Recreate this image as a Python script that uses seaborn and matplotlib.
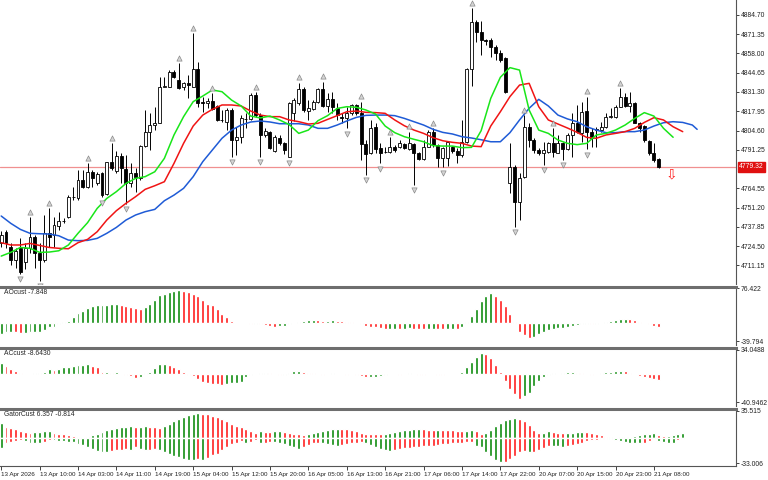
import matplotlib
matplotlib.use("Agg")
import matplotlib.pyplot as plt
import matplotlib.transforms as mtransforms
import numpy as np
import seaborn as sns

# ---- price data (H1 candles) ----
opens = [
    4726.8, 4734.0, 4723.5, 4714.8, 4722.9, 4713.6, 4722.9, 4730.5, 4719.4, 4714.8,
    4733.3, 4732.1, 4738.6, 4741.8, 4744.8, 4758.2, 4757.5, 4770.3, 4765.6, 4776.0,
    4767.9, 4774.9, 4760.3, 4782.5, 4776.7, 4787.1, 4777.9, 4768.4, 4775.3, 4771.4,
    4794.1, 4803.8, 4808.2, 4810.0, 4835.0, 4835.0, 4845.0, 4839.6, 4834.5, 4837.3,
    4835.0, 4847.0, 4824.4, 4823.4, 4825.3, 4821.6, 4811.9, 4810.7, 4818.8, 4798.0,
    4800.3, 4812.8, 4812.3, 4829.2, 4815.3, 4801.5, 4803.8, 4790.6, 4799.6, 4796.1,
    4786.4, 4817.0, 4823.4, 4833.1, 4818.3, 4819.3, 4824.6, 4833.1, 4821.6, 4826.7,
    4820.0, 4813.9, 4813.0, 4816.5, 4822.3, 4816.5, 4795.2, 4788.8, 4806.8, 4792.2,
    4789.7, 4789.9, 4793.4, 4792.9, 4795.0, 4791.5, 4795.2, 4789.2, 4784.6, 4793.4,
    4803.3, 4794.5, 4785.3, 4785.3, 4793.4, 4790.6, 4787.6, 4796.8, 4847.0, 4880.1,
    4872.7, 4867.4, 4867.4, 4862.7, 4858.1, 4854.6, 4768.4, 4779.5, 4755.2, 4772.6,
    4807.2, 4798.0, 4791.1, 4788.8, 4789.9, 4795.7, 4789.2, 4796.1, 4791.5, 4801.5,
    4810.0, 4803.1, 4818.1, 4803.8, 4805.5, 4804.9, 4806.8, 4813.7, 4814.2, 4821.1,
    4827.6, 4821.6, 4823.9, 4810.0, 4807.7, 4797.5, 4789.2, 4784.6,
]
highs = [
    4735.1, 4735.6, 4726.3, 4722.9, 4729.8, 4726.8, 4744.4, 4732.1, 4726.3, 4746.0,
    4750.6, 4744.8, 4748.3, 4743.7, 4759.8, 4765.6, 4777.2, 4777.2, 4781.8, 4777.2,
    4776.0, 4776.0, 4783.0, 4795.7, 4790.4, 4788.8, 4787.6, 4781.8, 4778.3, 4794.5,
    4818.8, 4816.5, 4820.7, 4841.5, 4842.0, 4846.5, 4846.5, 4851.2, 4838.5, 4843.1,
    4872.0, 4852.3, 4828.1, 4826.9, 4830.4, 4822.3, 4818.8, 4820.0, 4820.0, 4807.2,
    4815.3, 4816.5, 4830.4, 4831.0, 4816.5, 4806.1, 4804.5, 4801.5, 4801.5, 4796.8,
    4824.6, 4826.9, 4837.8, 4834.5, 4825.7, 4825.7, 4833.8, 4838.5, 4830.8, 4831.5,
    4823.4, 4816.5, 4821.1, 4823.0, 4823.0, 4824.6, 4798.0, 4811.9, 4809.6, 4795.7,
    4793.4, 4800.3, 4794.5, 4798.0, 4795.7, 4803.8, 4795.7, 4789.9, 4798.0, 4804.9,
    4806.1, 4795.0, 4793.4, 4797.5, 4794.1, 4792.2, 4811.9, 4847.7, 4889.3, 4881.2,
    4880.8, 4867.8, 4868.5, 4863.9, 4860.4, 4855.8, 4795.7, 4780.7, 4774.9, 4815.3,
    4809.6, 4799.2, 4792.2, 4796.8, 4796.8, 4806.1, 4801.5, 4796.8, 4802.6, 4816.5,
    4822.3, 4824.6, 4828.1, 4806.1, 4807.2, 4810.7, 4816.5, 4820.0, 4822.3, 4833.8,
    4830.8, 4831.5, 4824.6, 4810.7, 4808.4, 4798.0, 4796.1, 4785.3,
]
lows = [
    4723.5, 4722.9, 4711.3, 4709.0, 4705.1, 4708.3, 4719.4, 4709.0, 4700.4, 4713.6,
    4724.0, 4724.0, 4735.6, 4740.2, 4743.7, 4756.4, 4756.4, 4764.5, 4764.5, 4765.6,
    4766.8, 4758.2, 4759.8, 4777.2, 4774.9, 4767.9, 4753.6, 4765.6, 4762.2, 4770.3,
    4793.4, 4791.1, 4804.9, 4809.6, 4834.5, 4834.5, 4840.8, 4833.1, 4832.7, 4826.9,
    4834.5, 4820.7, 4817.6, 4820.0, 4818.8, 4811.4, 4810.7, 4804.9, 4786.4, 4787.6,
    4795.7, 4806.1, 4811.9, 4814.2, 4786.4, 4800.3, 4791.8, 4789.9, 4794.5, 4788.3,
    4786.0, 4811.4, 4822.3, 4817.6, 4811.9, 4818.8, 4823.4, 4821.1, 4817.6, 4816.5,
    4811.9, 4810.0, 4806.1, 4815.3, 4815.3, 4784.1, 4773.7, 4788.3, 4788.8, 4781.8,
    4788.8, 4788.8, 4789.9, 4792.2, 4791.5, 4791.1, 4766.8, 4784.1, 4784.1, 4792.9,
    4793.4, 4779.5, 4779.0, 4780.0, 4789.2, 4781.8, 4786.4, 4796.1, 4835.5, 4866.2,
    4857.0, 4863.9, 4855.8, 4853.5, 4852.3, 4830.4, 4761.0, 4737.9, 4742.5, 4771.4,
    4793.4, 4788.8, 4787.6, 4780.7, 4788.8, 4786.4, 4788.8, 4784.1, 4791.1, 4786.4,
    4802.6, 4796.8, 4791.5, 4793.4, 4793.4, 4803.8, 4806.1, 4813.0, 4813.0, 4820.7,
    4821.1, 4817.6, 4809.6, 4803.8, 4796.8, 4787.6, 4783.0, 4778.4,
]
closes = [
    4732.1, 4726.3, 4714.8, 4721.2, 4706.7, 4722.9, 4730.5, 4719.4, 4714.8, 4733.3,
    4730.5, 4738.8, 4741.8, 4741.5, 4758.2, 4758.5, 4770.3, 4765.6, 4776.0, 4771.4,
    4774.4, 4759.8, 4782.5, 4778.3, 4787.1, 4778.8, 4768.4, 4775.3, 4772.6, 4794.1,
    4803.8, 4808.4, 4810.0, 4835.0, 4835.5, 4845.4, 4841.5, 4833.8, 4837.3, 4836.1,
    4847.0, 4823.9, 4824.0, 4825.3, 4819.3, 4811.9, 4811.6, 4818.8, 4798.0, 4800.3,
    4813.0, 4812.3, 4829.2, 4815.3, 4801.5, 4804.2, 4792.2, 4800.3, 4795.7, 4791.1,
    4823.4, 4825.7, 4833.1, 4818.8, 4820.0, 4824.6, 4833.1, 4821.6, 4826.7, 4821.1,
    4815.3, 4813.5, 4816.5, 4822.3, 4816.5, 4795.2, 4788.3, 4806.1, 4791.5, 4789.2,
    4789.4, 4793.4, 4791.1, 4795.7, 4792.2, 4795.7, 4788.8, 4784.6, 4793.4, 4803.3,
    4794.5, 4785.3, 4792.2, 4796.8, 4790.6, 4787.6, 4796.8, 4847.0, 4880.1, 4872.7,
    4867.4, 4867.0, 4862.7, 4858.1, 4853.5, 4831.5, 4779.5, 4755.2, 4771.4, 4807.2,
    4798.0, 4791.1, 4788.8, 4791.1, 4795.7, 4789.9, 4796.1, 4791.5, 4801.5, 4809.6,
    4803.5, 4817.6, 4803.8, 4799.2, 4805.0, 4807.2, 4813.7, 4814.6, 4821.1, 4827.6,
    4821.6, 4823.4, 4810.0, 4806.1, 4798.0, 4788.8, 4784.1, 4779.32,
]
last_price = 4779.32

# ---- Alligator lines (already shifted forward), sampled every 2 bars ----
jaw_bars = list(range(0, 146, 2)) + [145]
jaw = [
    4745.3, 4740.2, 4736.0, 4733.3, 4733.0, 4732.8, 4731.6, 4728.6, 4728.2, 4728.4,
    4729.8, 4733.3, 4737.4, 4742.5, 4746.0, 4748.3, 4749.9, 4755.9,
    4759.8, 4764.5, 4772.6, 4783.0, 4791.1, 4799.2, 4804.9, 4808.4, 4810.5, 4811.2,
    4810.5, 4809.3, 4809.3, 4809.3, 4808.4, 4806.1, 4806.1,
    4808.4, 4811.2, 4813.7, 4815.1, 4815.3, 4815.3, 4814.9, 4813.0, 4810.7, 4808.4,
    4805.4, 4803.3, 4802.2, 4800.3, 4799.4, 4798.2, 4796.8,
    4796.8, 4803.1, 4811.9, 4820.0, 4826.2, 4821.6, 4815.3, 4812.6, 4810.7, 4807.2,
    4804.9, 4803.1, 4803.1, 4803.8, 4803.8, 4804.9, 4807.7, 4810.0, 4810.7, 4810.2,
    4808.4, 4805.4,
]
teeth_bars = list(range(0, 143, 2))
teeth = [
    4726.8, 4725.2, 4725.2, 4726.3, 4724.9, 4723.5, 4722.9, 4722.6, 4726.8, 4729.1,
    4734.4, 4742.5, 4749.0, 4754.1, 4758.7, 4763.8, 4766.3, 4769.1,
    4781.8, 4795.7, 4807.7, 4815.3, 4819.3, 4822.3, 4822.3, 4821.6, 4818.1, 4815.3,
    4814.2, 4814.2, 4811.9, 4810.7, 4809.1, 4809.6, 4812.3,
    4814.9, 4817.6, 4818.1, 4817.2, 4817.0, 4816.5, 4811.9, 4807.9, 4804.9, 4802.6,
    4799.6, 4797.5, 4796.4, 4795.7, 4793.8, 4793.4, 4807.7,
    4817.6, 4828.1, 4836.1, 4837.3, 4821.1, 4811.9, 4809.1, 4806.3, 4803.3, 4799.8,
    4799.2, 4801.5, 4802.6, 4803.8, 4806.1, 4810.2, 4813.5, 4811.9, 4807.2, 4803.8,
]
lips_bars = list(range(0, 141, 2))
lips = [
    4717.5, 4720.1, 4723.5, 4722.9, 4720.1, 4720.3, 4721.2, 4725.2, 4733.3, 4740.7,
    4750.6, 4757.5, 4762.2, 4767.9, 4771.4, 4772.6, 4776.0, 4785.3,
    4801.5, 4814.2, 4824.6, 4828.5, 4832.7, 4831.5, 4825.7, 4821.6, 4814.6, 4813.3,
    4814.6, 4811.9, 4808.7, 4802.6, 4804.9, 4811.4, 4814.9,
    4819.9, 4821.1, 4820.7, 4818.8, 4816.0, 4807.7, 4803.1, 4800.3, 4798.5, 4796.8,
    4794.1, 4793.8, 4793.8, 4792.7, 4792.9, 4804.5, 4826.9,
    4841.5, 4848.2, 4846.5, 4818.8, 4804.9, 4802.6, 4798.0, 4795.7, 4794.8, 4795.7,
    4801.5, 4802.6, 4804.9, 4808.4, 4813.0, 4817.0, 4814.6, 4806.1, 4799.9,
]

# ---- fractals ----
fractal_up = [6, 10, 18, 23, 37, 40, 44, 53, 62, 67, 75, 81, 85, 90, 98, 109, 115, 122, 129]
fractal_down = [4, 8, 21, 26, 48, 54, 60, 72, 76, 79, 86, 92, 107, 113, 117, 122]

# ---- oscillators ----
ao = [
    -22.6, -19.7, -19.0, -20.0, -22.0, -21.0, -20.0, -19.0, -18.0, -15.0,
    -8.5, -7.0, -2.0, 2.0, 6.0, 13.0, 21.9, 27.0, 32.6, 38.3,
    39.8, 40.5, 41.2, 42.0, 43.4, 41.2, 39.1, 36.2, 32.6, 31.2,
    36.2, 42.0, 52.0, 61.3, 65.0, 67.7, 70.6, 73.5, 72.0, 67.7,
    65.0, 60.6, 52.0, 43.4, 39.8, 30.5, 19.7, 14.7, 6.1, 1.8,
    0.3, -0.3, -1.0, -0.5, -2.0, -4.0, -6.0, -7.5, -6.5, -5.0,
    -2.0, 1.5, 4.0, 6.0, 6.5, 7.0, 6.5, 5.5, 6.0, 7.0,
    6.0, 4.5, 3.0, 2.5, 1.0, -2.0, -5.0, -7.0, -9.0, -11.0,
    -12.5, -12.0, -11.5, -12.0, -11.5, -11.0, -12.0, -13.0, -13.5, -12.5,
    -12.0, -13.0, -13.5, -12.5, -12.0, -12.5, -8.0, 3.0, 17.0, 32.0,
    50.0, 60.0, 65.6, 60.0, 52.0, 38.0, 20.0, 2.0, -18.0, -26.0,
    -33.0, -30.0, -24.0, -18.0, -15.0, -12.0, -11.0, -10.0, -7.0, -5.0,
    -4.0, -2.0, -1.0, -2.0, -1.0, 1.0, 3.0, 5.0, 7.0, 9.0,
    10.0, 9.0, 7.0, 4.0, 1.0, -2.5, -5.5, -7.848,
]
ac = [
    14.6, 11.3, 6.6, 3.3, 0.9, -0.9, -0.4, 0.5, 0.9, 2.8,
    6.1, 5.0, 6.6, 8.9, 9.9, 10.4, 11.8, 12.7, 13.7, 11.3,
    8.9, 1.9, 2.5, 0.5, 1.9, -0.5, -1.4, -2.8, -6.1, -5.2,
    0.2, 2.4, 8.0, 13.7, 14.2, 12.7, 8.9, 6.1, 1.9, -1.4,
    -2.8, -7.5, -12.3, -13.7, -14.6, -15.6, -17.0, -14.6, -13.7, -13.6,
    -12.3, -5.2, -1.9, -0.5, 0.5, 1.5, 1.0, -1.0, -2.5, -1.5,
    1.5, 3.5, 4.0, 3.0, 1.5, 0.5, -1.0, -2.0, -0.5, 1.0,
    0.0, -1.0, -2.0, -1.0, -2.0, -4.0, -5.5, -5.0, -4.5, -3.5,
    -2.5, -1.0, -0.5, -1.5, -0.5, 0.5, -1.0, -2.0, -2.5, -1.0,
    -0.5, -1.5, -2.0, -0.5, 0.0, -1.0, 2.0, 9.0, 17.0, 24.0,
    30.0, 28.0, 22.0, 12.0, 2.0, -10.0, -22.0, -30.0, -36.0, -32.0,
    -28.0, -18.0, -10.0, -5.0, -2.0, 0.5, -0.5, 0.5, 2.0, 2.5,
    1.5, 0.5, 0.0, -1.5, -0.5, 1.0, 2.0, 3.0, 4.0, 4.5,
    3.5, 1.5, -1.0, -3.0, -4.5, -6.0, -7.5, -8.643,
]
gator_up = [
    19.2, 14.9, 13.1, 11.9, 9.7, 7.5, 6.3, 7.5, 7.8, 8.8,
    9.7, 6.7, 5.8, 5.0, 4.1, 2.4, 1.1, 0.2, 1.9, 3.7,
    5.8, 8.4, 11.0, 12.3, 13.1, 14.0, 14.9, 15.7, 14.0, 14.8,
    15.5, 15.0, 14.0, 13.5, 15.5, 18.5, 22.0, 25.0, 28.0, 30.5,
    32.0, 32.8, 32.0, 31.0, 29.5, 27.5, 24.8, 22.6, 18.3, 16.2,
    14.0, 11.9, 9.7, 6.7, 8.9, 8.2, 7.8, 8.5, 9.4, 7.9,
    6.6, 5.6, 4.8, 4.3, 5.0, 6.3, 7.6, 9.5, 11.1, 11.8,
    12.1, 11.8, 11.3, 10.2, 8.7, 6.9, 5.7, 5.3, 5.0, 4.6,
    5.0, 6.3, 7.6, 8.9, 9.9, 10.8, 11.2, 11.5, 11.3, 11.1,
    10.8, 11.1, 10.8, 10.5, 10.3, 9.5, 9.0, 9.5, 10.2, 9.5,
    4.8, 7.0, 11.0, 15.5, 20.0, 23.0, 25.5, 26.5, 25.0, 22.0,
    17.5, 11.0, 6.0, 7.0, 9.5, 8.0, 6.5, 6.2, 6.5, 7.0,
    7.5, 7.8, 7.4, 6.5, 5.5, 3.5, 1.8, 1.0, 0.6, 0.8,
    1.2, 1.8, 2.5, 3.5, 5.0, 5.8, 6.0, 4.5, 2.5, 3.0,
    3.8, 5.0, 6.357,
]
gator_down = [
    -13.1, -6.7, -5.4, -4.1, -3.2, -4.1, -6.2, -6.7, -6.9, -5.8,
    -2.4, -3.2, -3.7, -4.1, -5.4, -5.8, -7.5, -9.3, -11.9, -14.4,
    -16.6, -17.9, -18.3, -17.5, -16.2, -16.2, -14.9, -16.2, -11.9, -14.4,
    -16.2, -15.3, -14.0, -15.5, -18.0, -20.5, -23.5, -25.6, -28.2, -29.1,
    -29.5, -28.2, -29.1, -26.9, -22.6, -20.5, -16.2, -11.9, -7.5, -6.7,
    -4.1, -6.7, -5.4, -3.2, -6.9, -6.3, -5.0, -5.6, -6.9, -8.2,
    -10.2, -12.1, -14.1, -12.1, -9.5, -6.9, -6.3, -6.9, -7.6, -9.5,
    -10.8, -9.5, -8.2, -6.9, -6.3, -5.6, -6.9, -9.5, -12.1, -14.7,
    -16.0, -16.7, -16.0, -14.7, -13.4, -12.8, -12.1, -11.5, -11.1, -10.8,
    -10.2, -9.5, -8.2, -7.6, -6.9, -6.9, -6.9, -5.6, -5.0, -10.8,
    -12.0, -18.0, -24.0, -29.0, -32.0, -31.0, -28.0, -24.0, -19.0, -17.0,
    -19.0, -18.0, -16.0, -13.0, -10.0, -10.5, -11.0, -11.5, -10.5, -9.5,
    -8.5, -6.5, -4.5, -3.0, -2.3, -1.5, -1.2, -1.8, -2.5, -3.5,
    -4.8, -6.0, -7.0, -7.2, -6.8, -4.0, -1.5, -3.5, -5.5, -6.5,
    -7.2, -3.0, -0.814,
]

# ---- axis texts ----
time_labels = [
    "13 Apr 2026", "13 Apr 10:00", "14 Apr 03:00", "14 Apr 11:00", "14 Apr 19:00",
    "15 Apr 04:00", "15 Apr 12:00", "15 Apr 20:00", "16 Apr 05:00", "16 Apr 13:00",
    "16 Apr 21:00", "17 Apr 06:00", "17 Apr 14:00", "17 Apr 22:00", "20 Apr 07:00",
    "20 Apr 15:00", "20 Apr 23:00", "21 Apr 08:00",
]
price_ticks = [4884.70, 4871.35, 4858.00, 4844.65, 4831.30, 4817.95, 4804.60,
               4791.25, 4764.55, 4751.20, 4737.85, 4724.50, 4711.15]

GREEN = "#0b8a0b"
RED = "#ff1a1a"
FS = 4.9
FS_X = 4.5


def rect(x0, y0, x1, y1):
    """Pixel box (top-left origin) -> figure fraction."""
    return [x0 / 768, 1 - y1 / 480, (x1 - x0) / 768, (y1 - y0) / 480]


def style_panel(ax, sep=True):
    ax.spines["left"].set_visible(False)
    ax.spines["bottom"].set_visible(False)
    ax.spines["right"].set_color("#555555")
    ax.spines["right"].set_linewidth(0.8)
    if sep:
        ax.spines["top"].set_color("#6e6e6e")
        ax.spines["top"].set_linewidth(2.2)
    else:
        ax.spines["top"].set_visible(False)
    ax.yaxis.tick_right()
    ax.tick_params(axis="y", labelsize=FS, length=2.5, width=0.6, pad=1,
                   colors="#222222")
    ax.tick_params(axis="x", bottom=False, labelbottom=False)
    ax.set_xlim(-0.25, 153.1)
    ax.set_xlabel("")
    ax.set_ylabel("")
    ax.set_facecolor("white")


def rise_colors(vals, use_abs=False):
    v = np.abs(vals) if use_abs else np.asarray(vals)
    cols = [GREEN]
    for i in range(1, len(v)):
        cols.append(GREEN if v[i] > v[i - 1] else RED)
    return cols


def chart():
    sns.set_style("white")
    plt.rcParams["font.family"] = ["Liberation Sans", "DejaVu Sans"]

    fig = plt.figure(figsize=(7.68, 4.8), dpi=100)
    ax = fig.add_axes(rect(0, 0, 736, 284))
    ax_ao = fig.add_axes(rect(0, 287, 736, 345), sharex=ax)
    ax_ac = fig.add_axes(rect(0, 348, 736, 406), sharex=ax)
    ax_g = fig.add_axes(rect(0, 409, 736, 466), sharex=ax)

    # candles
    n = len(closes)
    x = np.arange(n)
    o, h, l, c = map(np.asarray, (opens, highs, lows, closes))
    ax.vlines(x, l, h, color="black", linewidth=0.7, zorder=2)
    body_bottom = np.minimum(o, c)
    body_height = np.maximum(np.abs(c - o), 0.15)
    body_color = ["white" if cc >= oo else "black" for oo, cc in zip(o, c)]
    ax.bar(x, body_height, bottom=body_bottom, width=0.62, color=body_color,
           edgecolor="black", linewidth=0.6, zorder=3)

    # alligator
    sns.lineplot(x=jaw_bars, y=jaw, ax=ax, color="#1f5bd6", linewidth=1.1,
                 sort=False, estimator=None, zorder=4)
    sns.lineplot(x=teeth_bars, y=teeth, ax=ax, color="#f01414", linewidth=1.1,
                 sort=False, estimator=None, zorder=4)
    sns.lineplot(x=lips_bars, y=lips, ax=ax, color="#19e619", linewidth=1.1,
                 sort=False, estimator=None, zorder=4)

    # fractals
    sns.scatterplot(x=fractal_up, y=[h[i] + 3.6 for i in fractal_up], ax=ax,
                    marker="^", s=14, color="#d4d4d4", edgecolor="#8a8a8a",
                    linewidth=0.5, zorder=5)
    sns.scatterplot(x=fractal_down, y=[l[i] - 3.6 for i in fractal_down], ax=ax,
                    marker="v", s=14, color="#d4d4d4", edgecolor="#8a8a8a",
                    linewidth=0.5, zorder=5)

    # current price
    ax.axhline(last_price, color="#f09090", linewidth=0.9, zorder=1)
    trans = mtransforms.blended_transform_factory(ax.transAxes, ax.transData)
    ax.text(1.004, last_price, f"{last_price:.2f}", transform=trans, fontsize=FS,
            color="white", va="center", ha="left", clip_on=False,
            bbox=dict(boxstyle="square,pad=0.2", fc="#e01010", ec="#e01010"))
    ax.text(n + 1.6, last_price - 5.0, "\u21e9", color="#ff2020", fontsize=10,
            ha="center", va="center", zorder=6, family="DejaVu Sans")

    style_panel(ax, sep=False)
    ax.set_ylim(4698.15, 4895.1)
    ax.set_yticks(price_ticks)
    ax.set_yticklabels([f"{t:.2f}" for t in price_ticks])

    # AO
    ax_ao.bar(np.arange(len(ao)), ao, width=0.62, color=rise_colors(ao), zorder=3)
    style_panel(ax_ao)
    ax_ao.set_ylim(-47.5, 79.7)
    ax_ao.set_yticks([76.422, -39.794])
    ax_ao.set_yticklabels(["76.422", "-39.794"])
    ax_ao.text(0.005, 0.97, "AOcust -7.848", transform=ax_ao.transAxes,
               fontsize=FS, va="top", ha="left")

    # AC
    ax_ac.bar(np.arange(len(ac)), ac, width=0.62, color=rise_colors(ac), zorder=3)
    style_panel(ax_ac)
    ax_ac.set_ylim(-46.6, 36.9)
    ax_ac.set_yticks([34.0488, -40.9462])
    ax_ac.set_yticklabels(["34.0488", "-40.9462"])
    ax_ac.text(0.005, 0.97, "ACcust -8.6430", transform=ax_ac.transAxes,
               fontsize=FS, va="top", ha="left")

    # Gator
    gx = np.arange(len(gator_up))
    ax_g.bar(gx, gator_up, width=0.62, color=rise_colors(gator_up), zorder=3)
    ax_g.bar(gx, gator_down, width=0.62,
             color=rise_colors(gator_down, use_abs=True), zorder=3)
    style_panel(ax_g)
    ax_g.spines["bottom"].set_visible(True)
    ax_g.spines["bottom"].set_color("#555555")
    ax_g.spines["bottom"].set_linewidth(0.8)
    ax_g.set_ylim(-36.9, 38.1)
    ax_g.set_yticks([35.515, -33.006])
    ax_g.set_yticklabels(["35.515", "-33.006"])
    ax_g.text(0.005, 0.97, "GatorCust 6.357 -0.814", transform=ax_g.transAxes,
              fontsize=FS, va="top", ha="left")

    ax_g.tick_params(axis="x", bottom=True, labelbottom=True, labelsize=FS_X,
                     length=3, width=0.6, pad=1.5, colors="#222222")
    ax_g.set_xticks(list(range(0, 8 * len(time_labels), 8)))
    ax_g.set_xticklabels(time_labels, ha="left")
    ax_g.set_xlim(-0.25, 153.1)

    fig.savefig("out.png", dpi=100, facecolor="white")


def main():
    chart()


if __name__ == "__main__":
    main()
